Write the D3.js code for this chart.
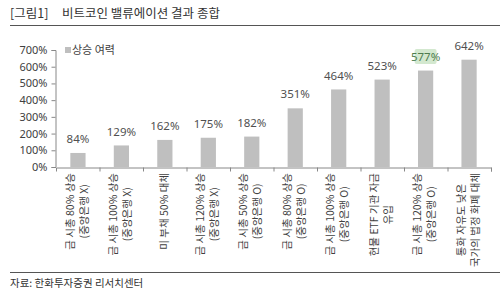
<!DOCTYPE html>
<html>
<head>
<meta charset="utf-8">
<script src="https://cdn.jsdelivr.net/npm/d3@7"></script>
<style>
  body { margin: 0; background: #fff; }
  text { font-family: "Noto Sans CJK KR", "Noto Sans", sans-serif; }
</style>
</head>
<body>
<div class="chart"></div>
<script>
// Chart data
const categories = [
    ["금 시총 80% 상승", "(중앙은행 X)"],
    ["금 시총 100% 상승", "(중앙은행 X)"],
    ["미 부채 50% 대체"],
    ["금 시총 120% 상승", "(중앙은행 X)"],
    ["금 시총 50% 상승", "(중앙은행 O)"],
    ["금 시총 80% 상승", "(중앙은행 O)"],
    ["금 시총 100% 상승", "(중앙은행 O)"],
    ["현물 ETF 기관 자금", "유입"],
    ["금 시총 120% 상승", "(중앙은행 O)"],
    ["통화 자유도 낮은", "국가의 법정 화폐 대체"]
];
const upside = [84, 129, 162, 175, 182, 351, 464, 523, 577, 642];
const yTicks = [0, 100, 200, 300, 400, 500, 600, 700];
const highlightIndex = 8;
const seriesName = "상승 여력";

const width = 500, height = 293;
const plot = { left: 56, right: 491, top: 50, bottom: 167 };

const svg = d3.select(".chart")
    .append("svg")
        .attr("width", width)
        .attr("height", height);

// Title and rules
svg.append("text")
    .attr("x", 10).attr("y", 18)
    .attr("font-size", 12.5).attr("fill", "#333")
    .text("[그림1]");
svg.append("text")
    .attr("x", 62).attr("y", 18)
    .attr("font-size", 12.5).attr("fill", "#333")
    .text("비트코인 밸류에이션 결과 종합");
svg.append("line")
    .attr("x1", 10).attr("x2", 500).attr("y1", 25.5).attr("y2", 25.5)
    .attr("stroke", "#555").attr("stroke-width", 1.2);
svg.append("line")
    .attr("x1", 10).attr("x2", 500).attr("y1", 272.5).attr("y2", 272.5)
    .attr("stroke", "#555").attr("stroke-width", 1.2);
svg.append("text")
    .attr("x", 10).attr("y", 287)
    .attr("font-size", 10.5).attr("fill", "#333")
    .text("자료: 한화투자증권 리서치센터");

// Scales
const x = d3.scaleBand()
    .domain(d3.range(upside.length))
    .range([plot.left, plot.right])
    .paddingInner(0.65)
    .paddingOuter(0.33);
const xEdges = d3.scaleLinear()
    .domain([0, upside.length])
    .range([plot.left, plot.right]);
const y = d3.scaleLinear()
    .domain([0, 700])
    .range([plot.bottom, plot.top]);

// Y axis
const yAxis = svg.append("g")
    .attr("transform", `translate(${plot.left - 0.5},0)`)
    .call(d3.axisLeft(y).tickValues(yTicks).tickSize(4).tickFormat(d => d + "%"));
yAxis.select(".domain").attr("stroke", "#888");
yAxis.selectAll(".tick line").attr("stroke", "#888");
yAxis.selectAll(".tick text")
    .attr("font-size", 11).attr("fill", "#404040")
    .attr("x", -8)
    .style("font-family", "'Noto Sans', sans-serif");

// X axis with ticks on band edges
const xAxis = svg.append("g")
    .attr("transform", `translate(0,${plot.bottom + 0.5})`)
    .call(d3.axisBottom(xEdges).tickValues(d3.range(1, upside.length + 1)).tickSize(4).tickFormat(""));
xAxis.select(".domain").attr("stroke", "#888");
xAxis.selectAll(".tick line").attr("stroke", "#888");

// Bars
svg.append("g").selectAll("rect")
    .data(upside)
    .join("rect")
        .attr("x", (d, i) => x(i))
        .attr("y", d => y(d))
        .attr("width", x.bandwidth())
        .attr("height", d => y(0) - y(d))
        .attr("fill", "#bfbfbf");

// Value labels
const labels = svg.append("g").selectAll("g")
    .data(upside)
    .join("g")
        .attr("transform", (d, i) => `translate(${x(i) + x.bandwidth() / 2},${y(d) - 14})`);
labels.filter((d, i) => i === highlightIndex)
    .append("rect")
        .attr("x", -11).attr("y", -7.5)
        .attr("width", 22).attr("height", 15)
        .attr("rx", 2)
        .attr("fill", "#d3e8cf");
labels.append("text")
    .attr("text-anchor", "middle")
    .attr("dy", "0.36em")
    .attr("font-size", 11.5)
    .attr("fill", (d, i) => i === highlightIndex ? "#4e7d4e" : "#505050")
    .style("font-family", "'Noto Sans', sans-serif")
    .text(d => d + "%");

// Category labels, rotated, block top-aligned under the axis
const catTop = 173;
const lineGap = 14;
categories.forEach((lines, i) => {
    const g = svg.append("g");
    const texts = g.selectAll("text")
        .data(lines)
        .join("text")
            .attr("text-anchor", "middle")
            .attr("font-size", 10.5)
            .attr("fill", "#404040")
            .attr("dy", "0.35em")
            .text(d => d);
    let maxLen = 0;
    texts.each(function() { maxLen = Math.max(maxLen, this.getComputedTextLength()); });
    const cx = x(i) + x.bandwidth() / 2 - 1;
    const cy = catTop + maxLen / 2;
    g.attr("transform", `translate(${cx},${cy}) rotate(-90)`);
    texts.attr("y", (d, k) => (k - (lines.length - 1) / 2) * lineGap);
});

// Legend
const legend = svg.append("g").attr("transform", "translate(65,50)");
legend.append("rect")
    .attr("x", 0).attr("y", -3).attr("width", 6).attr("height", 6)
    .attr("fill", "#bfbfbf");
legend.append("text")
    .attr("x", 7).attr("dy", "0.35em")
    .attr("font-size", 11).attr("fill", "#404040")
    .text(seriesName);
</script>
</body>
</html>
